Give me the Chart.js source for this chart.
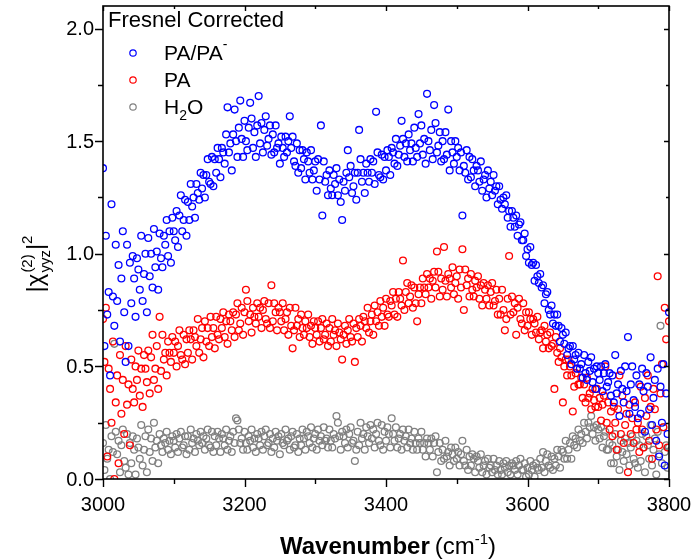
<!DOCTYPE html>
<html>
<head>
<meta charset="utf-8">
<script src="https://cdn.jsdelivr.net/npm/chart.js@4.4.1/dist/chart.umd.min.js"></script>
<style>
  html, body { margin: 0; padding: 0; background: #fff; }
  #box { width: 693px; height: 560px; }
</style>
</head>
<body>
<div id="box"><canvas id="grafico"></canvas></div>
<script>
// spectral grid: 3000 - 3800 cm-1, one reading every 2 cm-1
const waveStart = 3000;
const waveStep = 2;

// PA/PA- (blue), 20 points per row (40 cm-1)
const paMinusY = [
  1.38, 0.59, 1.08, 0.73, 0.83, 0.46, 1.22, 0.81, 0.68, 1.04, 0.79, 0.95, 0.61, 0.89, 1.10, 0.74, 0.52, 1.04, 0.59, 0.96,
  0.78, 0.99, 0.89, 0.72, 0.98, 0.93, 0.84, 1.08, 0.79, 0.91, 1.00, 0.74, 1.07, 0.90, 1.00, 0.85, 1.11, 0.94, 1.01, 0.84,
  1.09, 0.98, 0.94, 1.08, 1.04, 1.15, 0.99, 1.10, 0.96, 1.16, 1.10, 1.06, 1.19, 1.03, 1.17, 1.26, 1.10, 1.15, 1.24, 1.08,
  1.23, 1.15, 1.31, 1.21, 1.25, 1.16, 1.31, 1.27, 1.24, 1.36, 1.29, 1.35, 1.25, 1.35, 1.42, 1.32, 1.31, 1.43, 1.30, 1.42,
  1.36, 1.47, 1.42, 1.34, 1.47, 1.45, 1.40, 1.53, 1.65, 1.45, 1.49, 1.37, 1.53, 1.64, 1.50, 1.43, 1.56, 1.68, 1.51, 1.43,
  1.59, 1.50, 1.46, 1.56, 1.67, 1.60, 1.47, 1.54, 1.43, 1.57, 1.70, 1.49, 1.58, 1.45, 1.55, 1.61, 1.48, 1.51, 1.57, 1.44,
  1.53, 1.45, 1.57, 1.47, 1.49, 1.40, 1.52, 1.47, 1.43, 1.52, 1.45, 1.50, 1.61, 1.47, 1.52, 1.41, 1.39, 1.49, 1.36, 1.46,
  1.38, 1.46, 1.42, 1.33, 1.45, 1.41, 1.36, 1.46, 1.33, 1.37, 1.41, 1.28, 1.42, 1.33, 1.57, 1.17, 1.41, 1.32, 1.35, 1.26,
  1.37, 1.29, 1.26, 1.35, 1.31, 1.38, 1.26, 1.33, 1.23, 1.15, 1.32, 1.28, 1.36, 1.46, 1.34, 1.39, 1.27, 1.30, 1.36, 1.24,
  1.36, 1.55, 1.42, 1.32, 1.36, 1.27, 1.40, 1.36, 1.32, 1.42, 1.36, 1.41, 1.31, 1.63, 1.45, 1.35, 1.34, 1.44, 1.33, 1.43,
  1.37, 1.46, 1.43, 1.35, 1.47, 1.45, 1.40, 1.51, 1.39, 1.44, 1.48, 1.59, 1.51, 1.43, 1.49, 1.41, 1.53, 1.46, 1.49, 1.41,
  1.56, 1.47, 1.43, 1.62, 1.49, 1.57, 1.44, 1.51, 1.40, 1.71, 1.50, 1.46, 1.55, 1.42, 1.66, 1.58, 1.45, 1.48, 1.54, 1.41,
  1.50, 1.42, 1.54, 1.44, 1.64, 1.37, 1.50, 1.45, 1.40, 1.50, 1.43, 1.47, 1.37, 1.45, 1.17, 1.39, 1.36, 1.46, 1.33, 1.43,
  1.34, 1.42, 1.37, 1.30, 1.39, 1.37, 1.32, 1.41, 1.28, 1.33, 1.35, 1.25, 1.37, 1.29, 1.32, 1.26, 1.35, 1.28, 1.30, 1.22,
  1.30, 1.24, 1.20, 1.25, 1.22, 1.26, 1.16, 1.19, 1.12, 1.19, 1.16, 1.12, 1.17, 1.08, 1.13, 1.14, 1.06, 1.06, 1.09, 0.99,
  1.02, 0.96, 1.03, 0.95, 0.96, 0.88, 0.95, 0.90, 0.87, 0.91, 0.85, 0.86, 0.78, 0.82, 0.83, 0.75, 0.73, 0.77, 0.69, 0.73,
  0.68, 0.73, 0.68, 0.61, 0.67, 0.64, 0.60, 0.65, 0.55, 0.58, 0.59, 0.51, 0.59, 0.53, 0.55, 0.49, 0.56, 0.49, 0.51, 0.45,
  0.55, 0.47, 0.44, 0.52, 0.48, 0.54, 0.43, 0.49, 0.40, 0.50, 0.47, 0.44, 0.50, 0.39, 0.47, 0.51, 0.41, 0.43, 0.47, 0.37,
  0.46, 0.34, 0.55, 0.38, 0.42, 0.28, 0.48, 0.40, 0.34, 0.50, 0.39, 0.63, 0.29, 0.42, 0.50, 0.35, 0.32, 0.46, 0.27, 0.42,
  0.29, 0.49, 0.39, 0.21, 0.47, 0.41, 0.31, 0.54, 0.24, 0.36, 0.44, 0.17, 0.49, 0.10, 0.41, 0.25, 0.51, 0.06, 0.38, 0.20,
  0.74
];

// PA (red)
const paY = [
  0.71, 0.52, 0.76, 0.10, 0.49, 0.40, 0.25, 0.61, 0.00, 0.34, 0.46, 0.07, 0.55, 0.29, 0.44, 0.20, 0.59, 0.33, 0.42, 0.15,
  0.53, 0.40, 0.34, 0.50, 0.44, 0.57, 0.37, 0.49, 0.32, 0.55, 0.49, 0.43, 0.57, 0.38, 0.54, 0.64, 0.44, 0.49, 0.59, 0.40,
  0.72, 0.48, 0.64, 0.53, 0.56, 0.46, 0.61, 0.56, 0.52, 0.63, 0.56, 0.61, 0.50, 0.59, 0.66, 0.55, 0.53, 0.64, 0.51, 0.62,
  0.56, 0.66, 0.62, 0.53, 0.66, 0.63, 0.59, 0.71, 0.56, 0.62, 0.67, 0.54, 0.70, 0.61, 0.67, 0.59, 0.72, 0.63, 0.67, 0.58,
  0.72, 0.64, 0.62, 0.71, 0.67, 0.74, 0.63, 0.70, 0.60, 0.73, 0.70, 0.66, 0.74, 0.63, 0.73, 0.78, 0.66, 0.69, 0.76, 0.64,
  0.74, 0.84, 0.79, 0.70, 0.73, 0.65, 0.76, 0.72, 0.69, 0.78, 0.72, 0.76, 0.67, 0.75, 0.79, 0.71, 0.69, 0.78, 0.67, 0.86,
  0.70, 0.78, 0.74, 0.66, 0.76, 0.74, 0.70, 0.78, 0.66, 0.71, 0.74, 0.64, 0.76, 0.68, 0.58, 0.66, 0.76, 0.68, 0.71, 0.63,
  0.73, 0.67, 0.64, 0.70, 0.67, 0.73, 0.63, 0.68, 0.60, 0.70, 0.67, 0.64, 0.70, 0.61, 0.67, 0.71, 0.62, 0.64, 0.69, 0.59,
  0.67, 0.61, 0.71, 0.64, 0.66, 0.59, 0.69, 0.65, 0.62, 0.53, 0.64, 0.68, 0.60, 0.66, 0.71, 0.63, 0.61, 0.69, 0.52, 0.67,
  0.63, 0.71, 0.68, 0.61, 0.72, 0.70, 0.67, 0.76, 0.65, 0.70, 0.73, 0.64, 0.77, 0.70, 0.74, 0.68, 0.79, 0.72, 0.76, 0.68,
  0.80, 0.73, 0.72, 0.79, 0.77, 0.83, 0.73, 0.80, 0.72, 0.83, 0.80, 0.77, 0.97, 0.75, 0.83, 0.87, 0.78, 0.81, 0.86, 0.76,
  0.85, 0.78, 0.70, 0.82, 0.85, 0.78, 0.89, 0.85, 0.82, 0.91, 0.85, 0.89, 0.80, 0.88, 0.92, 0.85, 1.01, 0.92, 0.81, 0.89,
  0.84, 1.03, 0.88, 0.81, 0.91, 0.89, 0.85, 0.94, 0.82, 0.87, 0.90, 0.80, 0.93, 0.85, 1.02, 0.75, 0.93, 0.86, 0.89, 0.81,
  0.91, 0.84, 0.81, 0.88, 0.85, 0.90, 0.80, 0.86, 0.77, 0.87, 0.84, 0.80, 0.86, 0.77, 0.83, 0.87, 0.77, 0.79, 0.84, 0.73,
  0.80, 0.73, 0.84, 0.75, 0.66, 0.71, 0.80, 0.99, 0.73, 0.81, 0.74, 0.78, 0.64, 0.76, 0.80, 0.71, 0.69, 0.78, 0.66, 0.74,
  0.68, 0.74, 0.71, 0.64, 0.71, 0.69, 0.65, 0.72, 0.62, 0.65, 0.66, 0.58, 0.68, 0.61, 0.64, 0.58, 0.65, 0.59, 0.60, 0.40,
  0.63, 0.56, 0.52, 0.58, 0.54, 0.34, 0.50, 0.53, 0.46, 0.53, 0.50, 0.46, 0.30, 0.41, 0.47, 0.49, 0.42, 0.42, 0.45, 0.36,
  0.42, 0.34, 0.45, 0.36, 0.38, 0.31, 0.40, 0.35, 0.32, 0.40, 0.32, 0.36, 0.26, 0.33, 0.37, 0.50, 0.25, 0.34, 0.22, 0.30,
  0.19, 0.32, 0.25, 0.13, 0.31, 0.46, 0.20, 0.37, 0.16, 0.24, 0.29, 0.03, 0.33, 0.20, 0.27, 0.16, 0.34, 0.22, 0.25, 0.12,
  0.41, 0.22, 0.14, 0.36, 0.28, 0.46, 0.17, 0.32, 0.09, 0.40, 0.31, 0.22, 0.90, 0.15, 0.38, 0.51, 0.23, 0.76, 0.62, 0.14,
  0.70
];

// H2O (gray)
const waterY = [
  0.16, 0.04, 0.24, 0.09, 0.13, 0.00, 0.19, 0.12, 0.60, 0.21, 0.11, 0.17, 0.03, 0.15, 0.22, 0.08, 0.05, 0.20, 0.02, 0.16,
  0.07, 0.19, 0.13, 0.02, 0.18, 0.14, 0.09, 0.24, 0.06, 0.13, 0.19, 0.03, 0.22, 0.12, 0.18, 0.08, 0.25, 0.14, 0.17, 0.07,
  0.20, 0.15, 0.12, 0.18, 0.16, 0.21, 0.13, 0.17, 0.11, 0.19, 0.17, 0.14, 0.20, 0.12, 0.18, 0.21, 0.14, 0.15, 0.19, 0.11,
  0.19, 0.13, 0.22, 0.16, 0.18, 0.12, 0.20, 0.17, 0.15, 0.21, 0.16, 0.19, 0.13, 0.18, 0.22, 0.15, 0.14, 0.21, 0.12, 0.19,
  0.15, 0.21, 0.18, 0.12, 0.20, 0.18, 0.15, 0.22, 0.13, 0.17, 0.19, 0.12, 0.21, 0.16, 0.27, 0.26, 0.22, 0.16, 0.18, 0.13,
  0.21, 0.16, 0.13, 0.19, 0.17, 0.22, 0.14, 0.18, 0.12, 0.20, 0.18, 0.15, 0.21, 0.13, 0.19, 0.22, 0.15, 0.16, 0.20, 0.12,
  0.18, 0.14, 0.21, 0.17, 0.19, 0.11, 0.20, 0.16, 0.15, 0.22, 0.17, 0.18, 0.13, 0.19, 0.21, 0.14, 0.15, 0.20, 0.12, 0.18,
  0.15, 0.22, 0.18, 0.13, 0.21, 0.19, 0.16, 0.23, 0.14, 0.18, 0.20, 0.13, 0.22, 0.17, 0.19, 0.15, 0.23, 0.17, 0.18, 0.14,
  0.22, 0.17, 0.14, 0.20, 0.18, 0.28, 0.25, 0.19, 0.13, 0.21, 0.19, 0.16, 0.22, 0.14, 0.20, 0.23, 0.16, 0.17, 0.08, 0.13,
  0.21, 0.15, 0.25, 0.18, 0.20, 0.13, 0.23, 0.19, 0.16, 0.24, 0.18, 0.22, 0.14, 0.20, 0.25, 0.17, 0.15, 0.24, 0.13, 0.21,
  0.17, 0.23, 0.20, 0.14, 0.27, 0.20, 0.17, 0.23, 0.14, 0.18, 0.20, 0.13, 0.22, 0.17, 0.19, 0.14, 0.22, 0.16, 0.18, 0.13,
  0.21, 0.16, 0.13, 0.18, 0.16, 0.21, 0.13, 0.16, 0.10, 0.18, 0.16, 0.13, 0.18, 0.10, 0.16, 0.19, 0.03, 0.12, 0.16, 0.08,
  0.13, 0.09, 0.17, 0.10, 0.12, 0.06, 0.14, 0.11, 0.08, 0.14, 0.09, 0.12, 0.06, 0.11, 0.17, 0.08, 0.06, 0.13, 0.04, 0.10,
  0.06, 0.11, 0.09, 0.03, 0.10, 0.08, 0.05, 0.11, 0.03, 0.06, 0.08, 0.02, 0.09, 0.05, 0.06, 0.03, 0.09, 0.04, 0.06, 0.02,
  0.08, 0.04, 0.02, 0.07, 0.05, 0.08, 0.03, 0.06, 0.02, 0.07, 0.06, 0.04, 0.08, 0.02, 0.06, 0.09, 0.04, 0.04, 0.07, 0.01,
  0.05, 0.02, 0.08, 0.04, 0.06, 0.01, 0.07, 0.05, 0.04, 0.09, 0.05, 0.12, 0.03, 0.08, 0.11, 0.06, 0.05, 0.10, 0.04, 0.09,
  0.06, 0.13, 0.10, 0.05, 0.13, 0.12, 0.09, 0.17, 0.09, 0.13, 0.16, 0.09, 0.19, 0.15, 0.18, 0.14, 0.22, 0.17, 0.20, 0.16,
  0.25, 0.21, 0.18, 0.25, 0.23, 0.28, 0.20, 0.23, 0.17, 0.24, 0.22, 0.18, 0.23, 0.14, 0.19, 0.21, 0.13, 0.13, 0.16, 0.07,
  0.15, 0.07, 0.20, 0.10, 0.13, 0.04, 0.17, 0.12, 0.08, 0.18, 0.11, 0.16, 0.06, 0.14, 0.19, 0.09, 0.07, 0.17, 0.05, 0.15,
  0.08, 0.20, 0.14, 0.03, 0.19, 0.15, 0.09, 0.24, 0.06, 0.13, 0.18, 0.02, 0.21, 0.11, 0.68, 0.07, 0.23, 0.12, 0.15, 0.05,
  0.14
];

const seriesNames = ["PA/PA-", "PA", "H2O"];
const seriesColors = ["#0000ff", "#ff0000", "#808080"];
const xMajorTicks = [3000, 3200, 3400, 3600, 3800];
const xMinorTicks = [3100, 3300, 3500, 3700];
const yMajorTicks = [0, 0.5, 1.0, 1.5, 2.0];
const yMinorTicks = [0.25, 0.75, 1.25, 1.75];

function toPoints(ys) {
  return ys.map((y, i) => ({ x: waveStart + i * waveStep, y: y }));
}

const FONT = "Arial, 'Liberation Sans', sans-serif";

// draws text pieces one after another; a piece may carry a stacked subscript
function drawRich(ctx, pieces, x, y) {
  let cx = x;
  pieces.forEach(p => {
    ctx.font = (p.bold ? "bold " : "") + p.size + "px " + FONT;
    ctx.fillText(p.t, cx, y + (p.dy || 0));
    let w = ctx.measureText(p.t).width;
    if (p.stack) {
      ctx.font = p.stack.size + "px " + FONT;
      ctx.fillText(p.stack.t, cx, y + p.stack.dy);
      w = Math.max(w, ctx.measureText(p.stack.t).width);
    }
    cx += w + (p.gap || 0);
  });
  return cx - x;
}

function richWidth(ctx, pieces) {
  let w = 0;
  pieces.forEach(p => {
    ctx.font = (p.bold ? "bold " : "") + p.size + "px " + FONT;
    let pw = ctx.measureText(p.t).width;
    if (p.stack) {
      ctx.font = p.stack.size + "px " + FONT;
      pw = Math.max(pw, ctx.measureText(p.stack.t).width);
    }
    w += pw + (p.gap || 0);
  });
  return w;
}

// frame, ticks, labels, titles and legend
const decorPlugin = {
  id: "decor",
  afterDraw(chart) {
    const ctx = chart.ctx;
    const a = chart.chartArea;
    const xs = chart.scales.x;
    const ys = chart.scales.y;
    ctx.save();
    ctx.strokeStyle = "#000";
    ctx.fillStyle = "#000";
    ctx.lineWidth = 1.6;
    ctx.strokeRect(a.left, a.top, a.right - a.left, a.bottom - a.top);

    ctx.lineWidth = 1.4;
    ctx.beginPath();
    xMajorTicks.forEach(v => {
      const px = Math.round(xs.getPixelForValue(v)) + 0.5;
      ctx.moveTo(px, a.bottom); ctx.lineTo(px, a.bottom + 8);
      ctx.moveTo(px, a.top); ctx.lineTo(px, a.top + 5);
    });
    xMinorTicks.forEach(v => {
      const px = Math.round(xs.getPixelForValue(v)) + 0.5;
      ctx.moveTo(px, a.bottom); ctx.lineTo(px, a.bottom + 5);
      ctx.moveTo(px, a.top); ctx.lineTo(px, a.top + 3);
    });
    yMajorTicks.forEach(v => {
      const py = Math.round(ys.getPixelForValue(v)) + 0.5;
      ctx.moveTo(a.left, py); ctx.lineTo(a.left - 8, py);
      ctx.moveTo(a.right, py); ctx.lineTo(a.right - 5, py);
    });
    yMinorTicks.forEach(v => {
      const py = Math.round(ys.getPixelForValue(v)) + 0.5;
      ctx.moveTo(a.left, py); ctx.lineTo(a.left - 5, py);
      ctx.moveTo(a.right, py); ctx.lineTo(a.right - 3, py);
    });
    ctx.stroke();

    // tick labels
    ctx.font = "20px " + FONT;
    ctx.textAlign = "center";
    ctx.textBaseline = "middle";
    xMajorTicks.forEach(v => ctx.fillText(String(v), xs.getPixelForValue(v), a.bottom + 26));
    ctx.textAlign = "right";
    yMajorTicks.forEach(v => ctx.fillText(v.toFixed(1), a.left - 9, ys.getPixelForValue(v) + 1));

    // x title: Wavenumber (cm-1)
    ctx.textAlign = "left";
    ctx.textBaseline = "alphabetic";
    const xTitle = [
      { t: "Wavenumber", size: 24, bold: true, gap: 5 },
      { t: "(cm", size: 24 },
      { t: "-1", size: 15, dy: -10 },
      { t: ")", size: 24 }
    ];
    const xw = richWidth(ctx, xTitle);
    drawRich(ctx, xTitle, (a.left + a.right) / 2 - xw / 2 + 2, 554);

    // y title: |chi(2)yyz|^2, rotated
    const yTitle = [
      { t: "|", size: 24 },
      { t: "\u03c7", size: 24, gap: 1 },
      { t: "(2)", size: 15, dy: -11, stack: { t: "yyz", size: 15, dy: 7 } },
      { t: "|", size: 24 },
      { t: "2", size: 15, dy: -11 }
    ];
    ctx.save();
    ctx.translate(43, 264);
    ctx.rotate(-Math.PI / 2);
    const yw = richWidth(ctx, yTitle);
    drawRich(ctx, yTitle, -yw / 2, 0);
    ctx.restore();

    // legend
    ctx.font = "22px " + FONT;
    ctx.textBaseline = "middle";
    ctx.fillText("Fresnel Corrected", 108, 21);
    const legendText = [
      [{ t: "PA/PA", size: 21 }, { t: "-", size: 14, dy: -9 }],
      [{ t: "PA", size: 21 }],
      [{ t: "H", size: 21 }, { t: "2", size: 14, dy: 8 }, { t: "O", size: 21 }]
    ];
    const legendY = [53, 80, 107];
    for (let i = 0; i < 3; i++) {
      ctx.strokeStyle = seriesColors[i];
      ctx.lineWidth = 1.2;
      ctx.beginPath();
      ctx.arc(133, legendY[i], 3.2, 0, Math.PI * 2);
      ctx.stroke();
      ctx.fillStyle = "#000";
      drawRich(ctx, legendText[i], 164, legendY[i] + 1);
    }
    ctx.restore();
  }
};

function gerarGrafico() {
  const ctx = document.getElementById("grafico").getContext("2d");
  const sets = [paMinusY, paY, waterY].map((ys, i) => ({
    label: seriesNames[i],
    data: toPoints(ys),
    borderColor: seriesColors[i],
    backgroundColor: "rgba(0,0,0,0)",
    borderWidth: 1.3,
    pointRadius: 3.4,
    pointStyle: "circle",
    showLine: false,
    clip: 0
  }));
  new Chart(ctx, {
    type: "scatter",
    data: { datasets: sets },
    options: {
      responsive: true,
      maintainAspectRatio: false,
      animation: false,
      layout: { padding: { left: 103, right: 24, top: 6, bottom: 81 } },
      plugins: { legend: { display: false }, tooltip: { enabled: false } },
      scales: {
        x: { type: "linear", min: 3000, max: 3800, display: false },
        y: { type: "linear", min: 0, max: 2.1, display: false }
      }
    },
    plugins: [decorPlugin]
  });
}

gerarGrafico();
</script>
</body>
</html>
